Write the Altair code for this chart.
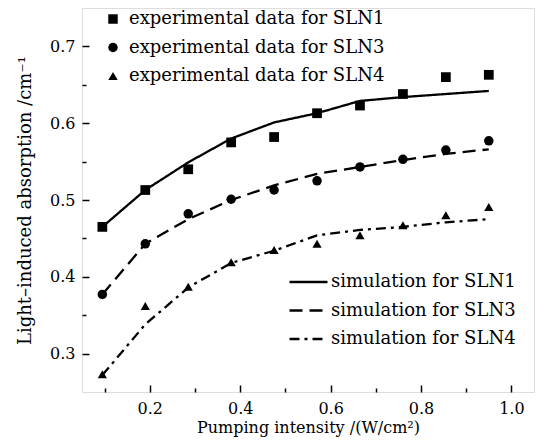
import altair as alt
import pandas as pd

# ---- data ----
x_vals = [0.095, 0.19, 0.285, 0.38, 0.475, 0.57, 0.665, 0.76, 0.855, 0.95]

exp_sln1 = [0.465, 0.513, 0.540, 0.575, 0.582, 0.613, 0.623, 0.638, 0.660, 0.663]
exp_sln3 = [0.377, 0.443, 0.482, 0.501, 0.513, 0.525, 0.543, 0.553, 0.565, 0.577]
exp_sln4 = [0.273, 0.362, 0.387, 0.419, 0.435, 0.443, 0.454, 0.467, 0.480, 0.491]

sim_sln1 = [0.465, 0.513, 0.549, 0.580, 0.601, 0.613, 0.629, 0.634, 0.638, 0.642]
sim_sln3 = [0.377, 0.443, 0.475, 0.500, 0.519, 0.534, 0.543, 0.552, 0.560, 0.566]
sim_sln4 = [0.272, 0.338, 0.386, 0.418, 0.434, 0.454, 0.461, 0.465, 0.471, 0.475]

exp_names = ["experimental data for SLN1", "experimental data for SLN3",
             "experimental data for SLN4"]
sim_names = ["simulation for SLN1", "simulation for SLN3", "simulation for SLN4"]
marker_keys = ["m1", "m3", "m4"]

# tick positions (major ones are labelled, minor ones are not)
x_ticks = [0.1, 0.2, 0.3, 0.4, 0.5, 0.6, 0.7, 0.8, 0.9, 1.0]
y_ticks = [0.3, 0.35, 0.4, 0.45, 0.5, 0.55, 0.6, 0.65, 0.7]

x_title = "Pumping intensity /(W/cm²)"
y_title = "Light–induced absorption /cm⁻¹"

W, H = 452, 384
FONT = "DejaVu Serif"
X0, X1, Y0, Y1 = 0.05, 1.05, 0.25, 0.75

# ---- tables ----
exp_df = pd.DataFrame({
    "x": x_vals * 3,
    "y": exp_sln1 + exp_sln3 + exp_sln4,
    "series": sum([[n] * len(x_vals) for n in exp_names], []),
    "marker": sum([[n] * len(x_vals) for n in marker_keys], []),
})
sim_df = pd.DataFrame({
    "x": x_vals * 3,
    "y": sim_sln1 + sim_sln3 + sim_sln4,
    "series": sum([[n] * len(x_vals) for n in sim_names], []),
})

xs = alt.Scale(domain=[X0, X1], nice=False, zero=False)
ys = alt.Scale(domain=[Y0, Y1], nice=False, zero=False)

x_major_test = "round(datum.value * 10) % 2 == 0"
y_major_test = "round(datum.value * 20) % 2 == 0"

points = alt.Chart(exp_df).mark_point(
    filled=True, color="black", opacity=1
).encode(
    x=alt.X("x:Q", scale=xs, axis=alt.Axis(
        orient="bottom", values=x_ticks, format=".1f", domain=False, grid=False,
        ticks=True, tickColor="black", tickWidth=1.5, zindex=1,
        tickSize=alt.ExprRef(expr=f"{x_major_test} ? -7 : -4"),
        labelExpr=f"{x_major_test} ? datum.label : ''",
        labelFont=FONT, labelFontSize=16, labelColor="black",
        labelPadding=15, title=x_title, titleFont=FONT, titleFontSize=16,
        titleFontWeight="normal", titleColor="black", titlePadding=3)),
    y=alt.Y("y:Q", scale=ys, axis=alt.Axis(
        orient="left", values=y_ticks, format=".1f", domain=False, grid=False,
        ticks=True, tickColor="black", tickWidth=1.5, zindex=1,
        tickSize=alt.ExprRef(expr=f"{y_major_test} ? -7 : -4"),
        labelExpr=f"{y_major_test} ? datum.label : ''",
        labelFont=FONT, labelFontSize=16, labelColor="black",
        labelPadding=14, title=y_title, titleFont=FONT, titleFontSize=18,
        titleFontWeight="normal", titleColor="black", titlePadding=15)),
    shape=alt.Shape("series:N", scale=alt.Scale(
        domain=exp_names, range=["square", "circle", "triangle-up"]),
        legend=alt.Legend(
            title=None, orient="none", legendX=22, legendY=2, padding=0,
            labelFont=FONT, labelFontSize=18, labelColor="black", labelLimit=0,
            symbolFillColor="black", symbolStrokeColor="black", symbolSize=90,
            symbolStrokeWidth=0, labelOffset=7, rowPadding=10.5)),
    size=alt.Size("marker:N", scale=alt.Scale(
        domain=marker_keys, range=[95, 85, 130]), legend=None),
)

lines = alt.Chart(sim_df).mark_line(color="black", strokeWidth=2.3).encode(
    x=alt.X("x:Q", scale=xs, axis=None),
    y=alt.Y("y:Q", scale=ys, axis=None),
    strokeDash=alt.StrokeDash("series:N", scale=alt.Scale(
        domain=sim_names, range=[[1, 0], [13, 7], [10, 5, 3, 5]]),
        legend=alt.Legend(
            title=None, orient="none", legendX=206, legendY=265, padding=0,
            labelFont=FONT, labelFontSize=18, labelColor="black", labelLimit=0,
            symbolType="stroke", symbolSize=1444, symbolStrokeWidth=2.5,
            symbolStrokeColor="black", clipHeight=18, labelOffset=2,
            rowPadding=10.5)),
    detail="series:N",
)

chart = alt.layer(points, lines).resolve_axis(
    x="independent", y="independent"
).resolve_scale(x="shared", y="shared").resolve_legend(
    shape="independent", strokeDash="independent"
).properties(
    width=W, height=H,
    autosize=alt.AutoSizeParams(type="none"),
    padding={"left": 74, "top": 0, "right": 6, "bottom": 47},
).configure_view(stroke="#222222", strokeWidth=2).configure(background="white")

chart.save("out.html", embed_options={"renderer": "svg", "actions": False})
